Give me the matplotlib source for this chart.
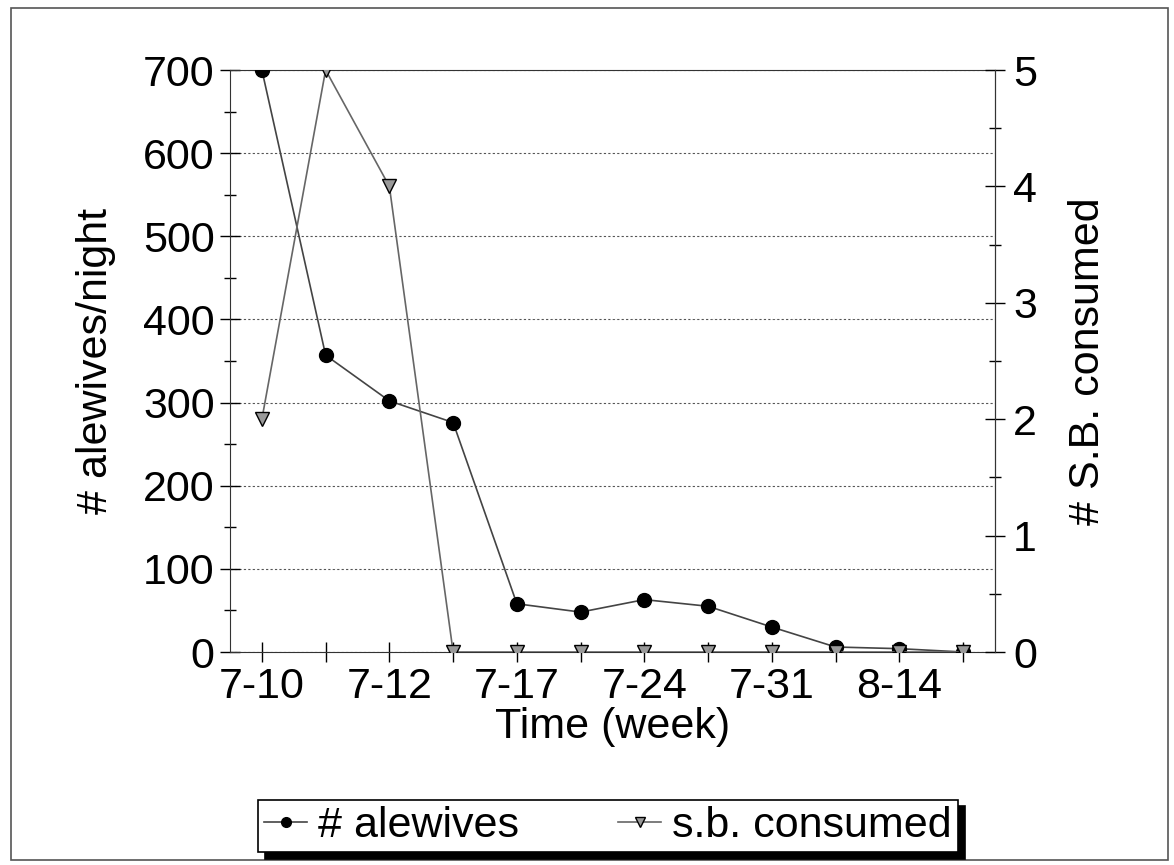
import numpy as np
import matplotlib
matplotlib.use("Agg")
import matplotlib.pyplot as plt
from matplotlib.ticker import MultipleLocator
from matplotlib.patches import Rectangle

plt.rcParams['font.family'] = ['Liberation Sans', 'DejaVu Sans']

# weekly samples
weeks = ['7-10', '', '7-12', '', '7-17', '', '7-24', '', '7-31', '', '8-14', '']
alewives = [700, 357, 302, 276, 58, 48, 63, 55, 30, 6, 4, 0]
sb_consumed = [2, 5, 4, 0, 0, 0, 0, 0, 0, 0, 0, 0]

x = np.arange(len(weeks))

fig = plt.figure(figsize=(11.74, 8.65), dpi=100)
ax = fig.add_axes([230 / 1174, 1 - 652 / 865, 765 / 1174, 582 / 865])
ax2 = ax.twinx()

ax.plot(x, alewives, color='#444444', lw=1.2, marker='o', markersize=10,
        markerfacecolor='black', markeredgecolor='black', label='# alewives', zorder=3)
ax2.plot(x, sb_consumed, color='#666666', lw=1.2, marker='v', markersize=10,
         markerfacecolor='#999999', markeredgecolor='black', markeredgewidth=1.0,
         label='s.b. consumed', zorder=3)

ax.set_xlim(-0.5, len(weeks) - 0.5)
ax.set_ylim(0, 700)
ax2.set_ylim(0, 5)

ax.set_xticks(x)
ax.set_xticklabels(weeks)
ax.yaxis.set_major_locator(MultipleLocator(100))
ax.yaxis.set_minor_locator(MultipleLocator(50))
ax2.yaxis.set_major_locator(MultipleLocator(1))
ax2.yaxis.set_minor_locator(MultipleLocator(0.5))

ax.tick_params(axis='both', which='major', direction='inout', length=14, width=1,
               labelsize=31, pad=4)
ax.tick_params(axis='y', which='minor', direction='inout', length=9, width=1)
ax2.tick_params(axis='y', which='major', direction='inout', length=14, width=1,
                labelsize=31, pad=6)
ax2.tick_params(axis='y', which='minor', direction='inout', length=9, width=1)

ax.grid(axis='y', which='major', linestyle=(0, (2, 2)), color='#555555', lw=0.8)
ax.set_axisbelow(True)

for s in ['left', 'right', 'top', 'bottom']:
    ax.spines[s].set_color('#333333')
ax2.spines['top'].set_visible(False)
ax2.spines['left'].set_visible(False)
ax2.spines['bottom'].set_visible(False)
ax2.spines['right'].set_color('#333333')

ax.set_xlabel('Time (week)', fontsize=31, labelpad=0)
ax.set_ylabel('# alewives/night', fontsize=31)
ax2.set_ylabel('# S.B. consumed', fontsize=31)
ax.yaxis.set_label_coords((116 - 230) / 765, 0.5)
ax2.yaxis.set_label_coords((1068 - 230) / 765, 0.5)

# outer frame
fig.patches.append(Rectangle((11 / 1174, 1 - 860 / 865), 1157 / 1174, 852 / 865,
                             transform=fig.transFigure, fill=False,
                             edgecolor='#555555', lw=1.2))

h1, l1 = ax.get_legend_handles_labels()
h2, l2 = ax2.get_legend_handles_labels()
leg = fig.legend(h1 + h2, l1 + l2, loc='center', ncol=2,
                 bbox_to_anchor=(608 / 1174, 1 - 826 / 865), fontsize=31,
                 frameon=True, fancybox=False,
                 shadow={'ox': 5, 'oy': -5, 'color': 'black', 'alpha': 1},
                 edgecolor='black', handlelength=1.0, handletextpad=0.25,
                 columnspacing=2.3, borderpad=0.15, borderaxespad=0,
                 markerscale=0.7)
leg.get_frame().set_linewidth(1.2)

fig.savefig('out.png', dpi=100)
